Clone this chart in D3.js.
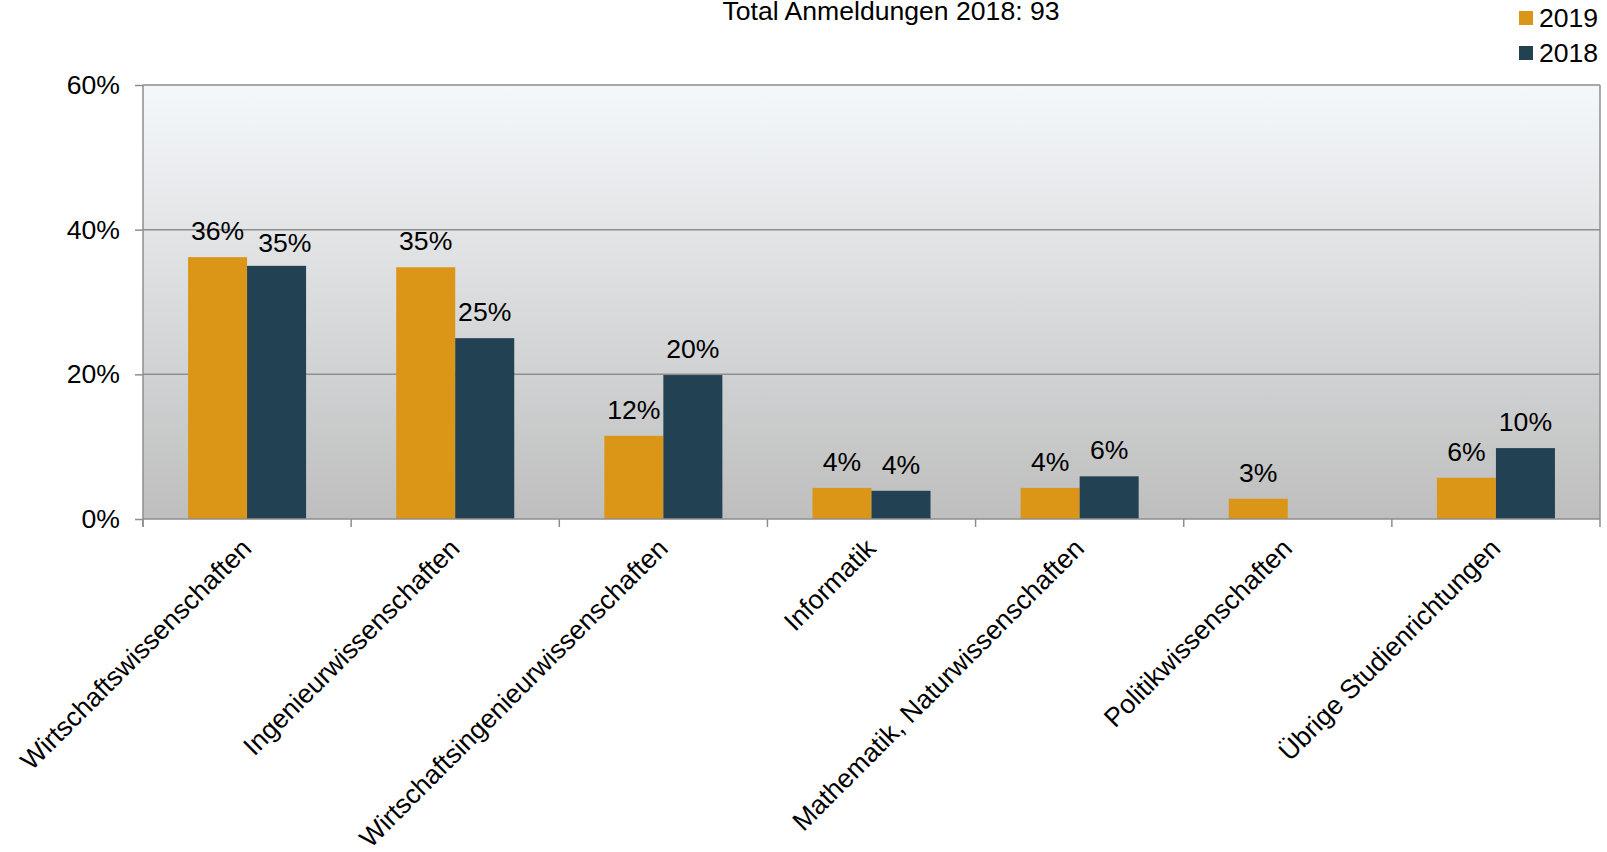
<!DOCTYPE html>
<html>
<head>
<meta charset="utf-8">
<script src="https://cdn.jsdelivr.net/npm/d3@7"></script>
<style>
  html, body { margin: 0; padding: 0; background: #ffffff; }
  svg { display: block; font-family: "Liberation Sans", Arial, sans-serif; }
</style>
</head>
<body>
<svg id="chart" width="1607" height="852"></svg>
<script>
// Anmeldungen nach Studienrichtung, Anteile in Prozent
const categories = [
  "Wirtschaftswissenschaften",
  "Ingenieurwissenschaften",
  "Wirtschaftsingenieurwissenschaften",
  "Informatik",
  "Mathematik, Naturwissenschaften",
  "Politikwissenschaften",
  "Übrige Studienrichtungen"
];
const series = ["2019", "2018"];
const values2019 = [36.2, 34.8, 11.5, 4.3, 4.3, 2.8, 5.7];
const values2018 = [35.0, 25.0, 19.9, 3.9, 5.9, null, 9.8];
const yTicks = [0, 20, 40, 60];
const titleText = "Total Anmeldungen 2018: 93";

const colors = { "2019": "#db9618", "2018": "#224152" };
const lineColor = "#8e8e8e";
const fontSize = 26.6;

const svg = d3.select("#chart");
const plot = { left: 143, right: 1600, top: 85, bottom: 519 };

const y = d3.scaleLinear().domain([0, 60]).range([plot.bottom, plot.top]);
const x0 = d3.scaleBand().domain(categories).range([plot.left, plot.right]);
const groupW = x0.bandwidth() * 0.567;
const x1 = d3.scaleBand().domain(series)
  .range([(x0.bandwidth() - groupW) / 2, (x0.bandwidth() + groupW) / 2]);

const table = categories.map((c, i) => ({
  category: c,
  values: [
    { key: "2019", value: values2019[i] },
    { key: "2018", value: values2018[i] }
  ].filter(d => d.value != null)
}));

// plot background gradient
const defs = svg.append("defs");
const grad = defs.append("linearGradient")
  .attr("id", "plotBg").attr("x1", 0).attr("y1", 0).attr("x2", 0).attr("y2", 1);
grad.append("stop").attr("offset", "0%").attr("stop-color", "#f5f8fb");
grad.append("stop").attr("offset", "100%").attr("stop-color", "#bebebe");

svg.append("rect")
  .attr("x", plot.left).attr("y", plot.top)
  .attr("width", plot.right - plot.left).attr("height", plot.bottom - plot.top)
  .attr("fill", "url(#plotBg)");

// horizontal gridlines
svg.append("g").selectAll("line")
  .data(yTicks.filter(t => t > 0))
  .join("line")
  .attr("x1", plot.left).attr("x2", plot.right)
  .attr("y1", d => y(d)).attr("y2", d => y(d))
  .attr("stroke", lineColor).attr("stroke-width", 1.5);

// right border
svg.append("line")
  .attr("x1", plot.right).attr("x2", plot.right)
  .attr("y1", plot.top).attr("y2", plot.bottom)
  .attr("stroke", lineColor).attr("stroke-width", 1.5);

// bars
const groups = svg.append("g").selectAll("g")
  .data(table)
  .join("g")
  .attr("transform", d => `translate(${x0(d.category)},0)`);

groups.selectAll("rect")
  .data(d => d.values)
  .join("rect")
  .attr("x", d => x1(d.key))
  .attr("width", x1.bandwidth())
  .attr("y", d => y(d.value))
  .attr("height", d => y(0) - y(d.value))
  .attr("fill", d => colors[d.key]);

// value labels
const fmt = v => d3.format(".0f")(v) + "%";
groups.each(function () {
  const labels = d3.select(this).selectAll("text")
    .data(d => d.values)
    .join("text")
    .attr("x", d => x1(d.key) + x1.bandwidth() / 2)
    .attr("y", d => y(d.value) - 17)
    .attr("text-anchor", "middle")
    .attr("font-size", fontSize)
    .attr("fill", "#000")
    .text(d => fmt(d.value));
  // nudge the second label of a pair when both sit at nearly the same height
  const nodes = labels.nodes();
  if (nodes.length === 2) {
    const a = nodes[0].getBBox(), b = nodes[1].getBBox();
    const dy = Math.abs(+nodes[1].getAttribute("y") - +nodes[0].getAttribute("y"));
    const gap = b.x - (a.x + a.width);
    const minGap = 14;
    if (dy < fontSize * 0.7 && gap < minGap) {
      d3.select(nodes[1])
        .attr("x", +nodes[1].getAttribute("x") + (minGap - gap))
        .attr("y", +nodes[1].getAttribute("y") + 3);
    }
  }
});

// y axis
const yAxis = svg.append("g")
  .attr("transform", `translate(${plot.left},0)`)
  .call(d3.axisLeft(y).tickValues(yTicks).tickSize(8).tickPadding(15)
    .tickFormat(d => d + "%"));
yAxis.select(".domain").attr("stroke", lineColor).attr("stroke-width", 1.5)
  .attr("d", `M0,${plot.top}V${plot.bottom + 8}`);
yAxis.selectAll(".tick line").attr("stroke", lineColor).attr("stroke-width", 1.5);
yAxis.selectAll(".tick text")
  .attr("font-size", fontSize).attr("fill", "#000")
  .attr("font-family", "Liberation Sans, Arial, sans-serif");

// x axis line and category boundary ticks
svg.append("line")
  .attr("x1", plot.left).attr("x2", plot.right)
  .attr("y1", plot.bottom).attr("y2", plot.bottom)
  .attr("stroke", lineColor).attr("stroke-width", 1.5);
const bounds = categories.map(c => x0(c)).concat([plot.right]);
svg.append("g").selectAll("line")
  .data(bounds)
  .join("line")
  .attr("x1", d => d).attr("x2", d => d)
  .attr("y1", plot.bottom).attr("y2", plot.bottom + 8)
  .attr("stroke", lineColor).attr("stroke-width", 1.5);

// rotated category labels
svg.append("g").selectAll("text")
  .data(categories)
  .join("text")
  .attr("transform", c => `translate(${x0(c) + x0.bandwidth() / 2 + 6},${plot.bottom + 31}) rotate(-45)`)
  .attr("text-anchor", "end")
  .attr("font-size", fontSize)
  .attr("fill", "#000")
  .text(c => c);

// title
svg.append("text")
  .attr("x", 891).attr("y", 20)
  .attr("text-anchor", "middle")
  .attr("font-size", fontSize)
  .attr("fill", "#000")
  .text(titleText);

// legend
const legend = svg.append("g").selectAll("g")
  .data(series)
  .join("g")
  .attr("transform", (d, i) => `translate(1519,${11 + i * 35})`);
legend.append("rect")
  .attr("width", 14).attr("height", 14)
  .attr("fill", d => colors[d]);
legend.append("text")
  .attr("x", 20).attr("y", 16)
  .attr("font-size", fontSize)
  .attr("fill", "#000")
  .text(d => d);
</script>
</body>
</html>
